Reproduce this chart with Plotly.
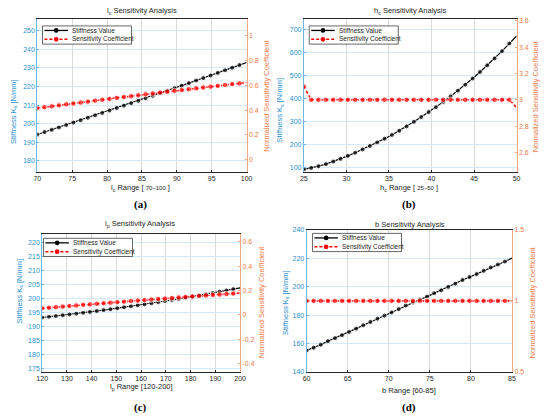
import plotly.graph_objects as go

# (a) l_c sweep
lc_x = [70, 71.03, 72.07, 73.10, 74.14, 75.17, 76.21, 77.24, 78.28, 79.31,
        80.34, 81.38, 82.41, 83.45, 84.48, 85.52, 86.55, 87.59, 88.62, 89.66,
        90.69, 91.72, 92.76, 93.79, 94.83, 95.86, 96.90, 97.93, 98.97, 100]
lc_k = [194.2, 195.5, 196.7, 198.0, 199.3, 200.6, 201.9, 203.2, 204.5, 205.8,
        207.1, 208.4, 209.7, 211.0, 212.3, 213.7, 215.0, 216.4, 217.7, 219.1,
        220.4, 221.8, 223.2, 224.5, 225.9, 227.3, 228.7, 230.1, 231.5, 232.9]
lc_s = [0.415, 0.423, 0.430, 0.438, 0.446, 0.453, 0.461, 0.468, 0.476, 0.483,
        0.490, 0.498, 0.505, 0.512, 0.519, 0.527, 0.534, 0.541, 0.548, 0.555,
        0.561, 0.568, 0.575, 0.582, 0.589, 0.595, 0.602, 0.609, 0.615, 0.622]

# (b) h_c sweep
hc_x = [25, 25.86, 26.72, 27.59, 28.45, 29.31, 30.17, 31.03, 31.90, 32.76,
        33.62, 34.48, 35.34, 36.21, 37.07, 37.93, 38.79, 39.66, 40.52, 41.38,
        42.24, 43.10, 43.97, 44.83, 45.69, 46.55, 47.41, 48.28, 49.14, 50]
hc_k = [90, 96.5, 104, 113, 124, 136, 149, 162.5, 177, 192,
        207.5, 223.5, 240, 258, 277, 297, 318, 339.5, 361, 384,
        408, 433, 459, 486, 514, 543, 573, 605, 638, 671]
hc_s = [3.10, 3.0, 3.0, 3.0, 3.0, 3.0, 3.0, 3.0, 3.0, 3.0,
        3.0, 3.0, 3.0, 3.0, 3.0, 3.0, 3.0, 3.0, 3.0, 3.0,
        3.0, 3.0, 3.0, 3.0, 3.0, 3.0, 3.0, 3.0, 3.0, 2.94]

# (c) l_p sweep
lp_x = [120, 122.76, 125.52, 128.28, 131.03, 133.79, 136.55, 139.31, 142.07, 144.83,
        147.59, 150.34, 153.10, 155.86, 158.62, 161.38, 164.14, 166.90, 169.66, 172.41,
        175.17, 177.93, 180.69, 183.45, 186.21, 188.97, 191.72, 194.48, 197.24, 200]
lp_k = [193.20, 193.47, 193.74, 194.02, 194.31, 194.60, 194.90, 195.21, 195.53, 195.86,
        196.19, 196.53, 196.87, 197.22, 197.59, 197.95, 198.33, 198.71, 199.10, 199.50,
        199.90, 200.31, 200.73, 201.16, 201.59, 202.04, 202.48, 202.94, 203.40, 203.87]
lp_s = [0.054, 0.059, 0.063, 0.068, 0.073, 0.077, 0.082, 0.086, 0.091, 0.095,
        0.100, 0.104, 0.108, 0.113, 0.117, 0.121, 0.126, 0.130, 0.134, 0.138,
        0.143, 0.147, 0.151, 0.155, 0.159, 0.163, 0.167, 0.171, 0.175, 0.179]

# (d) b sweep
b_x = [60, 60.86, 61.72, 62.59, 63.45, 64.31, 65.17, 66.03, 66.90, 67.76,
       68.62, 69.48, 70.34, 71.21, 72.07, 72.93, 73.79, 74.66, 75.52, 76.38,
       77.24, 78.10, 78.97, 79.83, 80.69, 81.55, 82.41, 83.28, 84.14, 85]
b_k = [155.2, 157.1, 159.2, 161.7, 163.8, 165.9, 168.2, 170.5, 172.9, 175.2,
       177.5, 179.6, 181.9, 184.2, 186.8, 188.9, 191.0, 193.0, 195.4, 197.4,
       199.8, 202.1, 204.6, 206.7, 208.8, 211.1, 213.5, 215.5, 217.6, 220.0]
b_s = [1.0] * 30

# tick values
lc_xt = [70, 75, 80, 85, 90, 95, 100]
lc_kt = [180, 190, 200, 210, 220, 230, 240, 250]
lc_st = [0, 0.2, 0.4, 0.6, 0.8, 1]
hc_xt = [25, 30, 35, 40, 45, 50]
hc_kt = [100, 200, 300, 400, 500, 600, 700]
hc_st = [2.6, 2.8, 3, 3.2, 3.4, 3.6]
lp_xt = [120, 130, 140, 150, 160, 170, 180, 190, 200]
lp_kt = [175, 180, 185, 190, 195, 200, 205, 210, 215, 220]
lp_st = [-0.4, -0.2, 0, 0.2, 0.4, 0.6]
b_xt = [60, 65, 70, 75, 80, 85]
b_kt = [140, 160, 180, 200, 220, 240]
b_st = [0.5, 1, 1.5]

legend_names = ["Stiffness Value", "Sensitivity Coefficient"]

W, H = 550, 419
BLUE = "#2b8fd0"
BLUE_LINE = "#6db6e6"
ORANGE = "#ee7a44"
ORANGE_LINE = "#f4a886"
DARK = "#262626"
FONT = "Liberation Sans, Arial, sans-serif"


def px(x0, x1):
    return [x0 / W, x1 / W]


def py(top, bottom):
    return [1 - bottom / H, 1 - top / H]


def fmt(v):
    return ("%g" % v)


panels = [
    dict(x=lc_x, k=lc_k, s=lc_s, xt=lc_xt, kt=lc_kt, st=lc_st,
         xr=[70, 100], kr=[174, 256], sr=[-0.1, 1.13],
         dx=px(32, 246), dy=py(15.7, 171), leg=(37.3, 22.3),
         title="l<sub>c</sub> Sensitivity Analysis", tpos=(139, 7.5),
         xlab="l<sub>c</sub> Range [ <span style='font-size:6px'>70–100</span> ]", xpos=(138, 186.7),
         lpos=(8, 109), rpos=(266, 93), tag="(a)", tagpos=(138, 204)),
    dict(x=hc_x, k=hc_k, s=hc_s, xt=hc_xt, kt=hc_kt, st=hc_st,
         xr=[25, 50], kr=[78, 743], sr=[2.45, 3.61],
         dx=px(304.5, 522), dy=py(15.7, 171), leg=(310, 22.3),
         title="h<sub>c</sub> Sensitivity Analysis", tpos=(413, 7.5),
         xlab="h<sub>c</sub> Range [ <span style='font-size:6px'>25–50</span> ]", xpos=(411.7, 186.7),
         lpos=(280, 107.5), rpos=(541.7, 94), tag="(b)", tagpos=(412, 204)),
    dict(x=lp_x, k=lp_k, s=lp_s, xt=lp_xt, kt=lp_kt, st=lp_st,
         xr=[120, 200], kr=[173.7, 223.2], sr=[-0.466, 0.662],
         dx=px(37, 239.3), dy=py(234, 374), leg=(38.3, 238.3),
         title="l<sub>p</sub> Sensitivity Analysis", tpos=(137, 223.3),
         xlab="l<sub>p</sub> Range [120-200]", xpos=(139, 390),
         lpos=(14, 291.7), rpos=(261.7, 303), tag="(c)", tagpos=(138, 410)),
    dict(x=b_x, k=b_k, s=b_s, xt=b_xt, kt=b_kt, st=b_st,
         xr=[60, 85], kr=[140, 240], sr=[0.5, 1.5],
         dx=px(307.3, 517.3), dy=py(229.5, 374.3), leg=(313.3, 233.3),
         title="b Sensitivity Analysis", tpos=(413, 224),
         xlab="b Range [60-85]", xpos=(411.7, 392.7),
         lpos=(286, 303.3), rpos=(538.3, 304), tag="(d)", tagpos=(412, 410)),
]

fig = go.Figure()
annotations = []
shapes = []
layout = {}


def paper_x(v):
    return v / W


def paper_y(v):
    return 1 - v / H


def add_legend(lx, ly):
    # small MATLAB-like legend box drawn in paper space
    shapes.append(dict(type="rect", xref="paper", yref="paper",
                       x0=paper_x(lx), x1=paper_x(lx + 91),
                       y0=paper_y(ly + 18.5), y1=paper_y(ly),
                       line=dict(color=DARK, width=0.7), fillcolor="white"))
    styles = [("black", "solid", 1.3), ("red", "3px,2px", 1.6)]
    for j, (col, dash, w) in enumerate(styles):
        yy = ly + 4.6 + 9 * j
        shapes.append(dict(type="line", xref="paper", yref="paper",
                           x0=paper_x(lx + 2), x1=paper_x(lx + 26),
                           y0=paper_y(yy), y1=paper_y(yy),
                           line=dict(color=col, width=w, dash=dash)))
        r = 2.4
        shapes.append(dict(type="circle", xref="paper", yref="paper",
                           x0=paper_x(lx + 14 - r), x1=paper_x(lx + 14 + r),
                           y0=paper_y(yy + r), y1=paper_y(yy - r),
                           line=dict(color=col, width=0), fillcolor=col))
        annotations.append(dict(text=legend_names[j], x=paper_x(lx + 28.5), y=paper_y(yy),
                                xanchor="left", yanchor="middle",
                                font=dict(size=6.5, color=DARK, family=FONT)))


for i, p in enumerate(panels):
    n = i + 1
    xa = "x" if n == 1 else "x%d" % n
    yl = "y" if n == 1 else "y%d" % (2 * n - 1)
    yr = "y%d" % (2 * n)
    sizes = [5] * (len(p["x"]) - 1) + [0]

    fig.add_trace(go.Scatter(
        x=p["x"], y=p["k"], xaxis=xa, yaxis=yl, mode="lines+markers",
        name=legend_names[0], showlegend=False,
        line=dict(color="black", width=1.2),
        marker=dict(color="black", size=sizes, symbol="circle")))
    fig.add_trace(go.Scatter(
        x=p["x"], y=p["s"], xaxis=xa, yaxis=yr, mode="lines+markers",
        name=legend_names[1], showlegend=False,
        line=dict(color="red", width=1.6, dash="3px,2px"),
        marker=dict(color="red", size=[v + 0.5 for v in sizes], symbol="circle")))

    xkey = "xaxis" if n == 1 else "xaxis%d" % n
    ylkey = "yaxis" if n == 1 else "yaxis%d" % (2 * n - 1)
    yrkey = "yaxis%d" % (2 * n)

    layout[xkey] = dict(
        domain=p["dx"], anchor=yl, range=p["xr"], tickvals=p["xt"],
        ticktext=[fmt(v) for v in p["xt"]],
        showgrid=True, gridcolor="#dadada", gridwidth=0.8,
        showline=True, linecolor=DARK, linewidth=0.8, mirror=True,
        ticks="inside", ticklen=2, tickcolor=DARK, zeroline=False,
        tickfont=dict(size=7, color=DARK, family=FONT))
    layout[ylkey] = dict(
        domain=p["dy"], anchor=xa, range=p["kr"], tickvals=p["kt"],
        ticktext=[fmt(v) for v in p["kt"]],
        showgrid=True, gridcolor="#d3eaf8", gridwidth=0.8,
        showline=True, linecolor=BLUE_LINE, linewidth=1,
        ticks="inside", ticklen=2, tickcolor=BLUE_LINE, zeroline=False,
        tickfont=dict(size=7, color=BLUE, family=FONT))
    layout[yrkey] = dict(
        overlaying=yl, side="right", anchor=xa, range=p["sr"], tickvals=p["st"],
        ticktext=[fmt(v) for v in p["st"]],
        showgrid=False, showline=True, linecolor=ORANGE_LINE, linewidth=1,
        ticks="inside", ticklen=2, tickcolor=ORANGE_LINE, zeroline=False,
        tickfont=dict(size=7, color=ORANGE, family=FONT))

    add_legend(*p["leg"])

    annotations += [
        dict(text=p["title"], x=paper_x(p["tpos"][0]), y=paper_y(p["tpos"][1]),
             font=dict(size=7.5, color=DARK, family=FONT)),
        dict(text=p["xlab"], x=paper_x(p["xpos"][0]), y=paper_y(p["xpos"][1]),
             font=dict(size=7.5, color=DARK, family=FONT)),
        dict(text="Stiffness K<sub>s</sub> [N/mm]", x=paper_x(p["lpos"][0]),
             y=paper_y(p["lpos"][1]), textangle=-90,
             font=dict(size=7.5, color=BLUE, family=FONT)),
        dict(text="Normalized Sensitivity Coefficient", x=paper_x(p["rpos"][0]),
             y=paper_y(p["rpos"][1]), textangle=-90,
             font=dict(size=7.5, color=ORANGE, family=FONT)),
        dict(text="<b>%s</b>" % p["tag"], x=paper_x(p["tagpos"][0]),
             y=paper_y(p["tagpos"][1]),
             font=dict(size=11, color="black", family="Liberation Serif, Times New Roman, serif")),
    ]

for a in annotations:
    a.setdefault("xanchor", "center")
    a.setdefault("yanchor", "middle")
    a.update(xref="paper", yref="paper", showarrow=False)

fig.update_layout(
    width=W, height=H, autosize=False, showlegend=False,
    margin=dict(l=0, r=0, t=0, b=0),
    paper_bgcolor="white", plot_bgcolor="white",
    annotations=annotations, shapes=shapes, **layout)

fig.write_html("out.html", config={"displayModeBar": False},
               post_script="document.body.style.margin='0px';")
